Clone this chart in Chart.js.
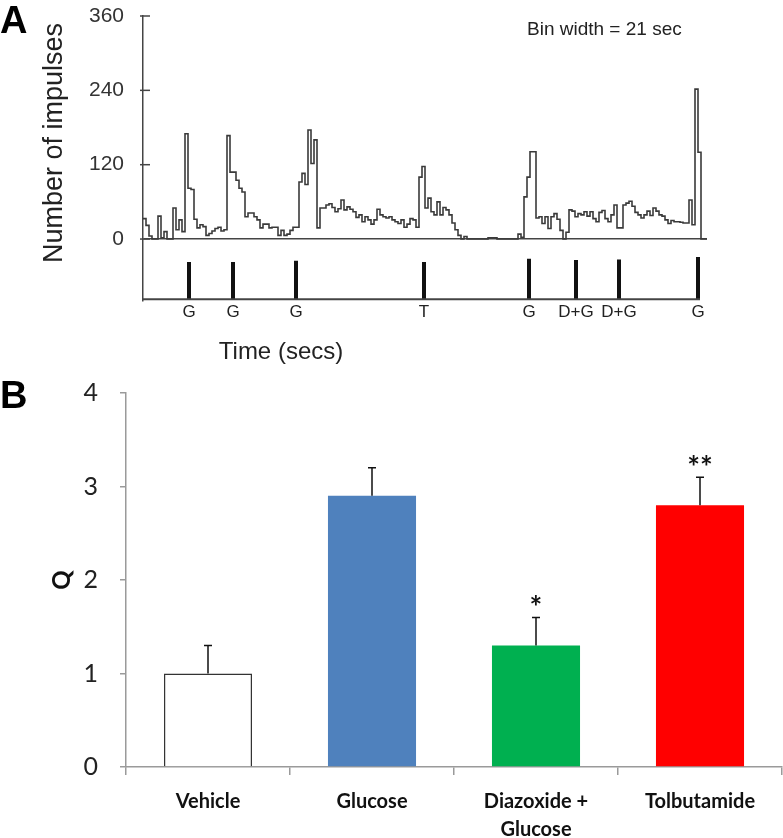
<!DOCTYPE html>
<html>
<head>
<meta charset="utf-8">
<script src="https://cdn.jsdelivr.net/npm/chart.js@4.4.0/dist/chart.umd.min.js"></script>
<style>
  body { margin: 0; background: #fff; }
  #wrap { position: relative; width: 783px; height: 838px; }
  #chartA { position: absolute; left: 0; top: 0; }
  #chartB { position: absolute; left: 0; top: 370px; }
</style>
</head>
<body>
<div id="wrap">
  <canvas id="chartA" width="783" height="370"></canvas>
  <canvas id="chartB" width="783" height="468"></canvas>
</div>
<script>
// Panel A: firing rate histogram, 21 s bins
const binWidth = 21;
const impulses = [
  33, 22, 5, 0, 0, 37, 2, 12, 0, 0, 50, 15, 31, 12,
  170,
  82, 80, 32, 18, 23, 20, 6, 9, 13, 17, 19, 13, 15,
  167,
  108, 108, 95, 82, 76, 36, 42, 42, 36, 31, 18, 24, 24, 18, 19, 19, 6, 14, 6, 8, 14, 19, 19,
  92, 106, 88, 176, 122, 160, 18,
  50, 50, 55, 57, 51, 44, 49, 63,
  47, 52, 48, 44, 35, 39, 28, 36, 31, 24, 31, 48, 39, 36, 34, 36, 31, 28, 25, 31, 19, 24, 33, 31, 19,
  100, 117, 50,
  66, 44, 39, 60, 39, 51, 47, 39, 26, 15, 6, 0, 4,
  0, 0, 0, 0, 0, 0, 0,
  2, 2, 2,
  0, 0, 0, 0, 0, 0, 0,
  8, 3, 68, 100, 141, 141,
  34, 36, 25, 36, 17, 36, 41, 32, 14, 0, 11, 47,
  45, 36, 41, 39, 44, 37, 44, 33, 28, 43, 46, 33, 28, 39,
  55, 18, 18, 55, 58, 61, 53, 43, 39, 34, 39, 45, 38, 50, 45, 39, 37, 31, 25, 30, 28, 28, 27, 26, 26, 63, 23,
  242, 140, 0, 0
];
const yTicksA = [0, 120, 240, 360];

// stimulus marks (secs) on the lower trace
const eventTimes = [322, 630, 1071, 1967, 2702, 3031, 3332, 3885];
const eventTops = [-37, -37, -35, -37, -32, -34, -33, -29];
const eventLabels = ['G', 'G', 'G', 'T', 'G', 'D+G', 'D+G', 'G'];
const traceLevel = -97;
const traceEnd = 3899;

// Panel B: Q per group
const groups = ['Vehicle', 'Glucose', ['Diazoxide +', 'Glucose'], 'Tolbutamide'];
const qMeans = [1.0, 2.9, 1.3, 2.8];
const qErrors = [0.3, 0.3, 0.3, 0.3];
const signif = ['', '', '*', '**'];
const barColors = ['#ffffff', '#4f81bd', '#00b050', '#ff0000'];

document.addEventListener("DOMContentLoaded", function () {

    const arial = '"Liberation Sans", Arial, sans-serif';
    const narrow = '"Liberation Sans Narrow", "Liberation Sans", Arial, sans-serif';
    const calibri = 'Lato, "Open Sans", sans-serif';

    const histPoints = impulses.map((v, i) => ({ x: i * binWidth, y: v }));
    histPoints.push({ x: impulses.length * binWidth, y: 0 });

    const markPoints = [];
    eventTimes.forEach((t, i) => {
        markPoints.push({ x: t, y: traceLevel });
        markPoints.push({ x: t, y: eventTops[i] });
        markPoints.push({ x: t, y: null });
    });

    const panelAText = {
        id: 'panelAText',
        afterDraw(chart) {
            const ctx = chart.ctx;
            const xs = chart.scales.x, ys = chart.scales.y;
            ctx.save();
            // ticks cross the axis
            ctx.strokeStyle = '#444';
            ctx.lineWidth = 1.5;
            ys.ticks.forEach(t => {
                const py = ys.getPixelForValue(t.value);
                ctx.beginPath();
                ctx.moveTo(ys.right - 3, py);
                ctx.lineTo(ys.right + 7, py);
                ctx.stroke();
            });

            ctx.fillStyle = '#222';
            ctx.textAlign = 'center';
            ctx.textBaseline = 'middle';
            ctx.font = '17px ' + arial;
            eventTimes.forEach((t, i) => {
                ctx.fillText(eventLabels[i], xs.getPixelForValue(t), 312);
            });

            ctx.font = '24px ' + narrow;
            ctx.fillText('Time (secs)', 281, 352);

            ctx.textAlign = 'left';
            ctx.font = '19px ' + arial;
            ctx.fillText('Bin width = 21 sec', 527, 30);

            ctx.fillStyle = '#000';
            ctx.textBaseline = 'alphabetic';
            ctx.font = 'bold 38px ' + arial;
            ctx.fillText('A', 0, 33);

            ctx.fillStyle = '#222';
            ctx.translate(55, 143);
            ctx.rotate(-Math.PI / 2);
            ctx.textAlign = 'center';
            ctx.textBaseline = 'middle';
            ctx.font = '27px ' + arial;
            ctx.fillText('Number of impulses', 0, 0);
            ctx.restore();
        }
    };

    new Chart(document.getElementById('chartA').getContext('2d'), {
        type: 'line',
        data: {
            datasets: [
                {
                    data: histPoints,
                    stepped: 'before',
                    borderColor: '#3a3a3a',
                    borderWidth: 1.6,
                    pointRadius: 0,
                    fill: false
                },
                {
                    data: [{ x: 0, y: traceLevel }, { x: traceEnd, y: traceLevel }],
                    borderColor: '#444',
                    borderWidth: 2,
                    pointRadius: 0
                },
                {
                    data: markPoints,
                    borderColor: '#111',
                    borderWidth: 4,
                    pointRadius: 0,
                    spanGaps: false
                }
            ]
        },
        options: {
            responsive: false,
            animation: false,
            devicePixelRatio: 1,
            layout: { padding: { top: 0, bottom: 69, left: 0, right: 76 } },
            plugins: { legend: { display: false }, tooltip: { enabled: false } },
            scales: {
                x: {
                    type: 'linear',
                    min: 0,
                    max: impulses.length * binWidth,
                    display: false
                },
                y: {
                    min: -100,
                    max: 360,
                    afterBuildTicks: scale => { scale.ticks = yTicksA.map(v => ({ value: v })); },
                    afterFit: scale => {
                        scale.width = 143;
                        scale.paddingTop = 16;
                        scale.paddingBottom = 0;
                    },
                    grid: {
                        drawTicks: false,
                        lineWidth: 1.5,
                        color: c => (c.tick && c.tick.value === 0) ? '#444' : 'rgba(0,0,0,0)'
                    },
                    border: { display: true, color: '#444', width: 1.5 },
                    ticks: { color: '#333', padding: 19, font: { family: arial, size: 21 } }
                }
            }
        },
        plugins: [panelAText]
    });

    const panelBExtras = {
        id: 'panelBExtras',
        afterDatasetsDraw(chart) {
            const ctx = chart.ctx;
            const ys = chart.scales.y;
            const bars = chart.getDatasetMeta(0).data;
            ctx.save();
            ctx.strokeStyle = '#111';
            ctx.lineWidth = 1.5;
            bars.forEach((bar, i) => {
                const top = ys.getPixelForValue(qMeans[i] + qErrors[i]);
                ctx.beginPath();
                ctx.moveTo(bar.x, bar.y);
                ctx.lineTo(bar.x, top);
                ctx.moveTo(bar.x - 4, top);
                ctx.lineTo(bar.x + 4, top);
                ctx.stroke();
                if (signif[i]) {
                    ctx.fillStyle = '#111';
                    ctx.textAlign = 'center';
                    ctx.textBaseline = 'alphabetic';
                    ctx.font = 'bold 30px ' + calibri;
                    ctx.fillText(signif[i], bar.x, top + 1);
                }
            });
            ctx.restore();
        },
        afterDraw(chart) {
            const ctx = chart.ctx;
            ctx.save();
            ctx.fillStyle = '#000';
            ctx.font = 'bold 38px ' + arial;
            ctx.fillText('B', 0, 38);
            ctx.fillStyle = '#111';
            ctx.translate(62, 210);
            ctx.rotate(-Math.PI / 2);
            ctx.textAlign = 'center';
            ctx.textBaseline = 'middle';
            ctx.font = 'bold 24px ' + calibri;
            ctx.fillText('Q', 0, 0);
            ctx.restore();
        }
    };

    new Chart(document.getElementById('chartB').getContext('2d'), {
        type: 'bar',
        data: {
            labels: groups,
            datasets: [{
                data: qMeans,
                backgroundColor: barColors,
                borderColor: ['#333', 'rgba(0,0,0,0)', 'rgba(0,0,0,0)', 'rgba(0,0,0,0)'],
                borderWidth: [1.5, 0, 0, 0],
                barPercentage: 0.537,
                categoryPercentage: 1
            }]
        },
        options: {
            responsive: false,
            animation: false,
            devicePixelRatio: 1,
            layout: { padding: { top: 0, bottom: 0, left: 0, right: 1 } },
            plugins: { legend: { display: false }, tooltip: { enabled: false } },
            scales: {
                x: {
                    afterFit: scale => { scale.height = 71; },
                    grid: { offset: true, drawOnChartArea: false, tickLength: 8, color: '#9a9a9a', lineWidth: 1.5 },
                    border: { color: '#9a9a9a', width: 1.5 },
                    ticks: {
                        color: '#111',
                        padding: 13,
                        maxRotation: 0,
                        font: { family: calibri, size: 20, weight: 'bold', lineHeight: 1.4 }
                    }
                },
                y: {
                    min: 0,
                    max: 4,
                    afterFit: scale => {
                        scale.width = 126;
                        scale.paddingTop = 23;
                        scale.paddingBottom = 0;
                    },
                    grid: { drawOnChartArea: false, tickLength: 6, color: '#9a9a9a', lineWidth: 1.5 },
                    border: { color: '#9a9a9a', width: 1.5 },
                    ticks: { stepSize: 1, color: '#222', padding: 22, font: { family: calibri, size: 25 } }
                }
            }
        },
        plugins: [panelBExtras]
    });
});
</script>
</body>
</html>
